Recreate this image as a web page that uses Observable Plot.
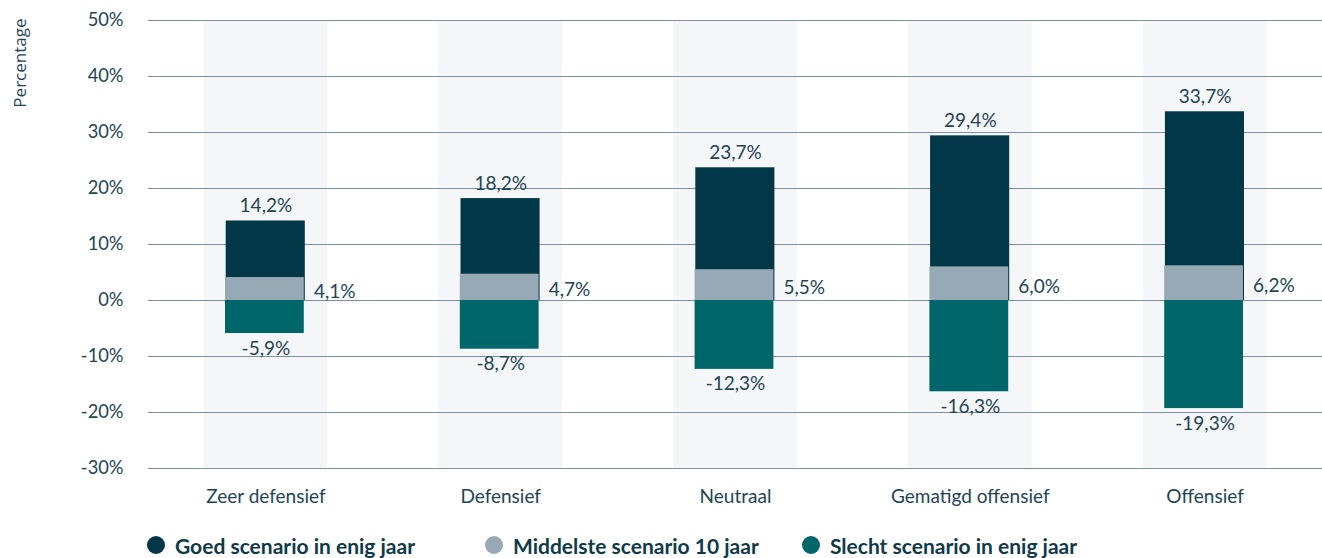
<!DOCTYPE html>
<html>
<head>
<meta charset="utf-8">
<script src="https://cdn.jsdelivr.net/npm/d3@7"></script>
<script src="https://cdn.jsdelivr.net/npm/@observablehq/plot@0.6"></script>
<style>
  html, body { margin: 0; padding: 0; background: #fff; }
  body { width: 1322px; height: 558px; overflow: hidden; font-family: Lato, sans-serif; }
  #legend { display: flex; align-items: center; height: 38px; margin-top: 6px; padding-left: 147px; color: #0f3a4a; font-weight: 700; font-size: 21px; }
  .item { display: flex; align-items: center; }
  .dot { width: 18px; height: 18px; border-radius: 50%; margin-right: 10px; }
</style>
</head>
<body>
<div id="chart"></div>
<div id="legend"></div>
<script>
const categories = ["Zeer defensief", "Defensief", "Neutraal", "Gematigd offensief", "Offensief"];
const goed = [14.2, 18.2, 23.7, 29.4, 33.7];
const middel = [4.1, 4.7, 5.5, 6.0, 6.2];
const slecht = [-5.9, -8.7, -12.3, -16.3, -19.3];
const yTicks = [-30, -20, -10, 0, 10, 20, 30, 40, 50];
const seriesNames = ["Goed scenario in enig jaar", "Middelste scenario 10 jaar", "Slecht scenario in enig jaar"];
const seriesColors = ["#013747", "#97a9b5", "#00666a"];

const data = categories.map((c, i) => ({cat: c, goed: goed[i], middel: middel[i], slecht: slecht[i]}));
const fmt = v => v.toFixed(1).replace(".", ",") + "%";
const textColor = "#1d4556";

const chart = Plot.plot({
  width: 1322,
  height: 520,
  marginLeft: 148,
  marginRight: 0,
  marginTop: 20,
  marginBottom: 52,
  style: {fontFamily: "Lato, sans-serif", fontSize: "18px", color: textColor, background: "#fff"},
  x: {domain: categories, padding: 0, round: false, label: null},
  y: {domain: [-30, 50], label: null},
  marks: [
    Plot.barY(data, {x: "cat", y1: -30, y2: 50, fill: "#f4f6f8", insetLeft: 55.5, insetRight: 55.5}),
    Plot.ruleY(yTicks, {stroke: "#7d8fa0", strokeWidth: 1}),
    Plot.barY(data, {x: "cat", y1: 0, y2: "goed", fill: seriesColors[0], insetLeft: 77.7, insetRight: 78}),
    Plot.barY(data, {x: "cat", y1: 0, y2: "slecht", fill: seriesColors[2], insetLeft: 77, insetRight: 79}),
    Plot.barY(data, {x: "cat", y1: 0, y2: "middel", fill: seriesColors[1], insetLeft: 77, insetRight: 79}),
    Plot.text(data, {x: "cat", y: "goed", text: d => fmt(d.goed), dy: -15, fill: textColor, fontSize: 19}),
    Plot.text(data, {x: "cat", y: "slecht", text: d => fmt(d.slecht), dy: 15, fill: textColor, fontSize: 19}),
    Plot.text(data, {x: "cat", y: d => d.middel / 2, text: d => fmt(d.middel), dx: 48, dy: 3, textAnchor: "start", fill: textColor, fontSize: 19}),
    Plot.axisY({ticks: yTicks, tickFormat: d => d + "%", tickSize: 0, tickPadding: 25, label: null, fontSize: 18.3}),
    Plot.axisX({tickSize: 0, tickPadding: 21, label: null, fontSize: 19}),
    Plot.text(["Percentage"], {frameAnchor: "top-left", text: d => d, rotate: -90, textAnchor: "end", dx: -135, dy: -2, fill: textColor, fontSize: 17, fontFamily: "'Open Sans', sans-serif"})
  ]
});
document.getElementById("chart").appendChild(chart);

const legend = document.getElementById("legend");
const widths = [338, 317, null];
seriesNames.forEach((name, i) => {
  const item = document.createElement("div");
  item.className = "item";
  if (widths[i]) item.style.width = widths[i] + "px";
  const dot = document.createElement("span");
  dot.className = "dot";
  dot.style.background = seriesColors[i];
  const label = document.createElement("span");
  label.textContent = name;
  item.appendChild(dot);
  item.appendChild(label);
  legend.appendChild(item);
});
</script>
</body>
</html>
